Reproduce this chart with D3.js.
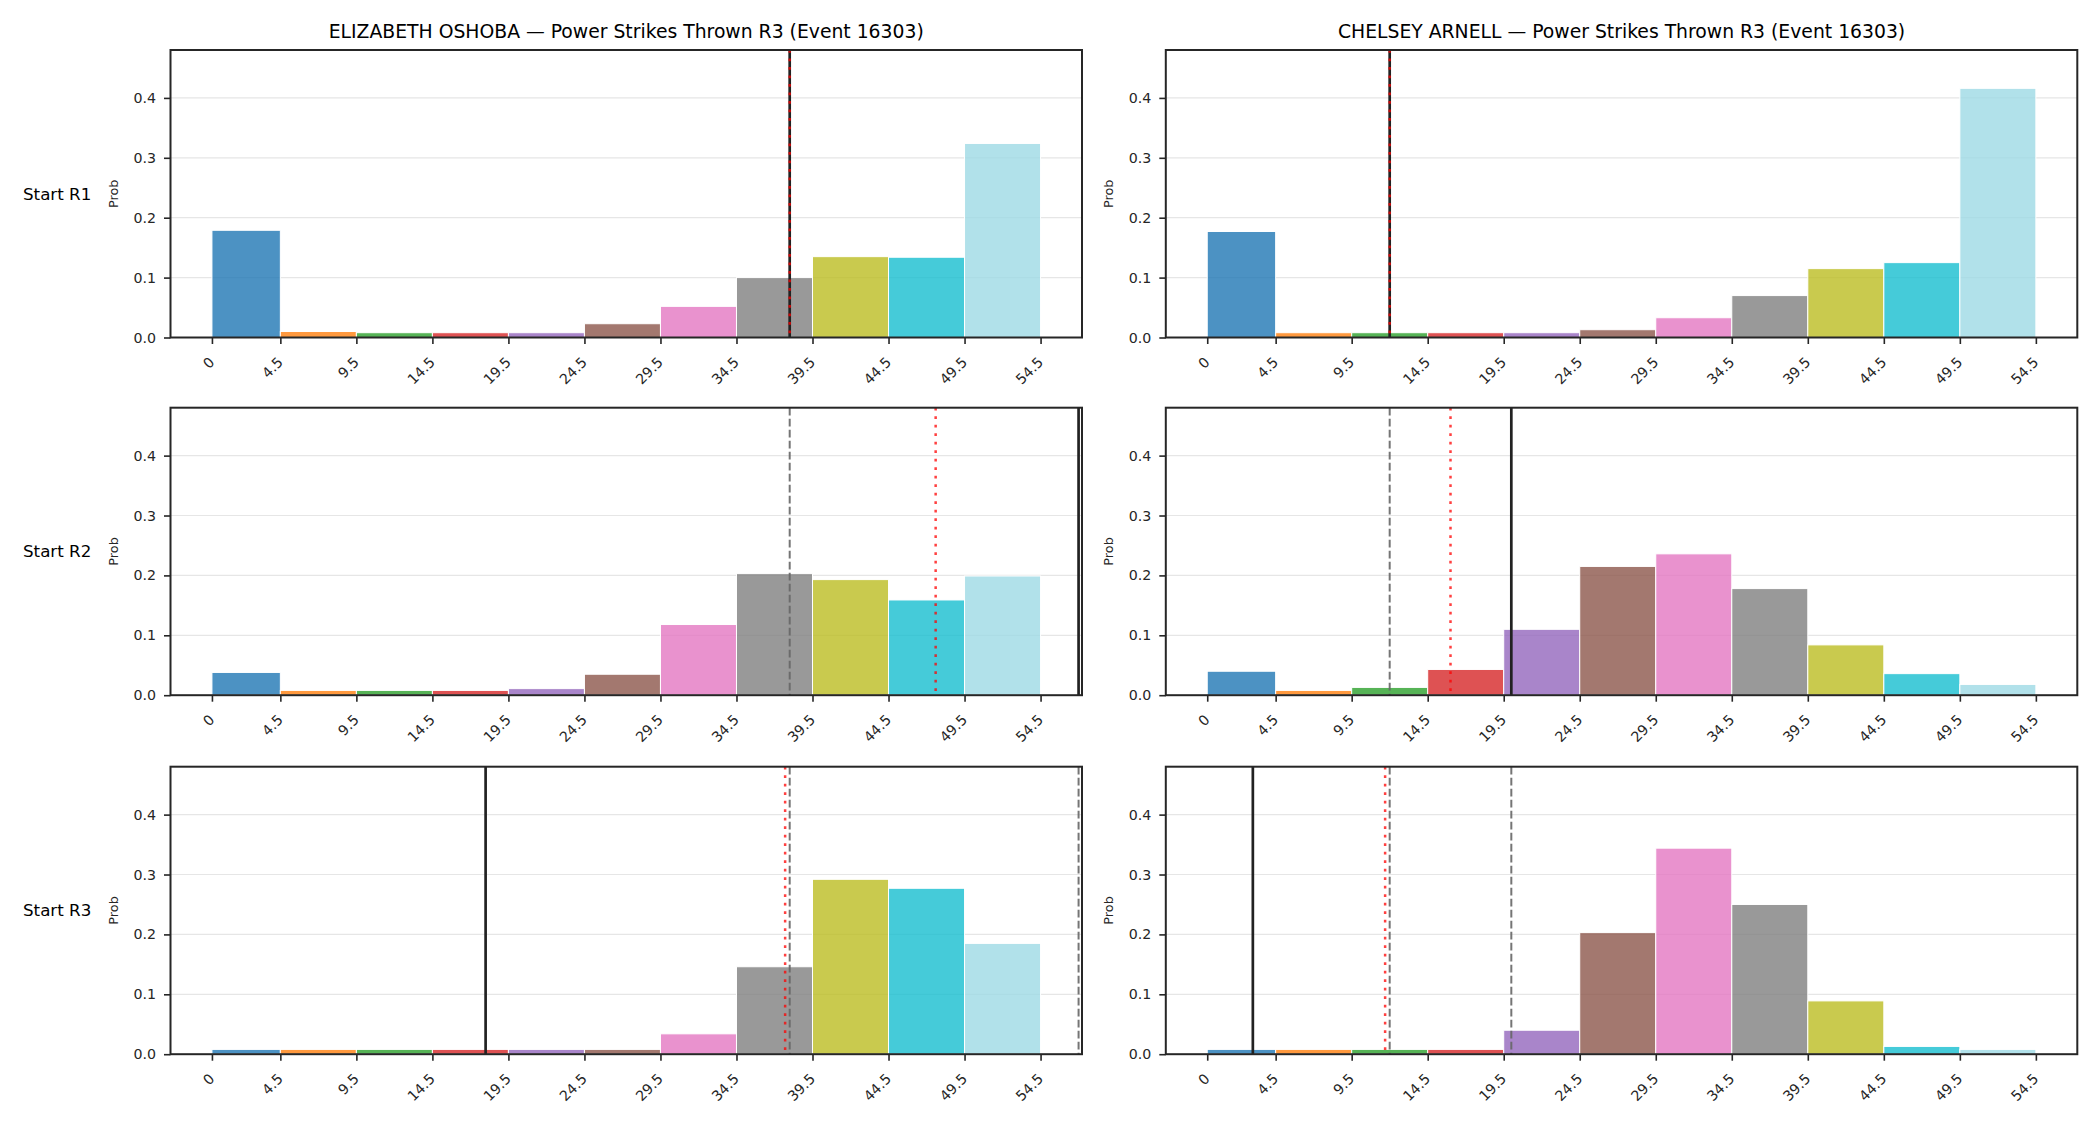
<!DOCTYPE html>
<html>
<head>
<meta charset="utf-8">
<script src="https://cdn.jsdelivr.net/npm/d3@7"></script>
<style>
  body { margin: 0; background: #fff; }
  text { font-family: "DejaVu Sans", sans-serif; }
</style>
</head>
<body>
<svg id="chart"></svg>
<script>
// bins and labels
const binEdges = [0, 4.5, 9.5, 14.5, 19.5, 24.5, 29.5, 34.5, 39.5, 44.5, 49.5, 54.5];
const tickLabels = ["0", "4.5", "9.5", "14.5", "19.5", "24.5", "29.5", "34.5", "39.5", "44.5", "49.5", "54.5"];
const yTicks = [0, 0.1, 0.2, 0.3, 0.4];
const fighters = ["ELIZABETH OSHOBA", "CHELSEY ARNELL"];
const rowLabels = ["Start R1", "Start R2", "Start R3"];
const binColors = ["#1f77b4", "#ff7f0e", "#2ca02c", "#d62728", "#9467bd", "#8c564b",
                   "#e377c2", "#7f7f7f", "#bcbd22", "#17becf", "#9edae5"];

// probabilities per bin
const oshobaR1 = [0.179, 0.010, 0.008, 0.008, 0.008, 0.023, 0.052, 0.100, 0.135, 0.134, 0.324];
const oshobaR2 = [0.038, 0.008, 0.008, 0.008, 0.011, 0.035, 0.118, 0.203, 0.193, 0.159, 0.199];
const oshobaR3 = [0.008, 0.008, 0.008, 0.008, 0.008, 0.008, 0.034, 0.146, 0.292, 0.277, 0.185];
const arnellR1 = [0.177, 0.008, 0.008, 0.008, 0.008, 0.013, 0.033, 0.070, 0.115, 0.125, 0.416];
const arnellR2 = [0.040, 0.008, 0.013, 0.043, 0.110, 0.215, 0.236, 0.178, 0.084, 0.036, 0.018];
const arnellR3 = [0.008, 0.008, 0.008, 0.008, 0.040, 0.203, 0.344, 0.250, 0.089, 0.013, 0.008];

// reference lines: actual (solid), mean (dotted red), earlier actuals (dashed grey)
const oshobaActual = [38, 57, 18];
const oshobaMean = [38, 47.6, 37.7];
const oshobaPrev = [[], [38], [38, 57]];
const arnellActual = [12, 20, 3];
const arnellMean = [12, 16, 11.7];
const arnellPrev = [[], [12], [12, 20]];

const W = 2100, H = 1125;
const panelW = 911.5, panelH = 287.5;
const colX = [170.5, 1165.8];
const rowY = [50, 407.7, 766.7];

const svg = d3.select("#chart").attr("width", W).attr("height", H);

const x = d3.scaleLinear().domain([-2.725, 57.225]).range([0, panelW]);
const y = d3.scaleLinear().domain([0, 0.48]).range([panelH, 0]);

const panels = [
  [oshobaR1, oshobaR2, oshobaR3],
  [arnellR1, arnellR2, arnellR3]
];
const actuals = [oshobaActual, arnellActual];
const means = [oshobaMean, arnellMean];
const prevs = [oshobaPrev, arnellPrev];

function drawPanel(col, row) {
  const probs = panels[col][row];
  const g = svg.append("g")
      .attr("transform", `translate(${colX[col]}, ${rowY[row]})`);

  // grid
  g.selectAll(".grid")
    .data(yTicks.slice(1))
    .join("line")
    .attr("x1", 0).attr("x2", panelW)
    .attr("y1", d => y(d)).attr("y2", d => y(d))
    .attr("stroke", "#e6e6e6").attr("stroke-width", 1.2);

  // bars
  const bins = probs.map((p, i) => ({ x0: binEdges[i], x1: binEdges[i + 1], p: p, c: binColors[i] }));
  g.selectAll("rect.bar")
    .data(bins)
    .join("rect")
    .attr("class", "bar")
    .attr("x", d => x(d.x0))
    .attr("width", d => x(d.x1) - x(d.x0))
    .attr("y", d => y(d.p))
    .attr("height", d => y(0) - y(d.p))
    .attr("fill", d => d.c)
    .attr("fill-opacity", 0.8)
    .attr("stroke", "#fff")
    .attr("stroke-width", 1);

  // previous actuals
  g.selectAll("line.prev")
    .data(prevs[col][row])
    .join("line")
    .attr("class", "prev")
    .attr("x1", d => x(d)).attr("x2", d => x(d))
    .attr("y1", 0).attr("y2", panelH)
    .attr("stroke", "#666").attr("stroke-opacity", 0.9)
    .attr("stroke-width", 2)
    .attr("stroke-dasharray", "7.7,3.3");

  // actual
  g.append("line")
    .attr("x1", x(actuals[col][row])).attr("x2", x(actuals[col][row]))
    .attr("y1", 0).attr("y2", panelH)
    .attr("stroke", "#222").attr("stroke-width", 2.7);

  // mean
  g.append("line")
    .attr("x1", x(means[col][row])).attr("x2", x(means[col][row]))
    .attr("y1", 0).attr("y2", panelH)
    .attr("stroke", "red").attr("stroke-opacity", 0.75)
    .attr("stroke-width", 2.5)
    .attr("stroke-dasharray", "2.7,5.8");

  // axes
  const xAxis = d3.axisBottom(x)
    .tickValues(binEdges)
    .tickFormat((d, i) => tickLabels[i])
    .tickSize(6.5)
    .tickSizeOuter(0);
  const xg = g.append("g")
    .attr("transform", `translate(0, ${panelH})`)
    .call(xAxis);
  xg.select(".domain").remove();
  xg.selectAll(".tick line").attr("stroke", "#262626").attr("stroke-width", 1.6);
  xg.selectAll(".tick text")
    .attr("font-size", "14.2px")
    .attr("fill", "#262626")
    .attr("text-anchor", "end")
    .attr("dy", "0.35em")
    .attr("transform", "translate(-0.5, 22) rotate(-45)")
    .attr("y", 0).attr("x", 0);

  const yAxis = d3.axisLeft(y)
    .tickValues(yTicks)
    .tickFormat(d3.format(".1f"))
    .tickSize(6.5)
    .tickPadding(8);
  const yg = g.append("g").call(yAxis);
  yg.select(".domain").remove();
  yg.selectAll(".tick line").attr("stroke", "#262626").attr("stroke-width", 1.6);
  yg.selectAll(".tick text").attr("font-size", "14.2px").attr("fill", "#262626");

  // spines
  g.append("rect")
    .attr("width", panelW).attr("height", panelH)
    .attr("fill", "none")
    .attr("stroke", "#262626").attr("stroke-width", 2);

  // y label
  g.append("text")
    .attr("transform", `translate(-57, ${panelH / 2}) rotate(-90)`)
    .attr("text-anchor", "middle")
    .attr("dy", "0.35em")
    .attr("font-size", "12.8px")
    .attr("fill", "#262626")
    .text("Prob");

  if (row === 0) {
    g.append("text")
      .attr("x", panelW / 2).attr("y", -18.3)
      .attr("dy", "0.35em")
      .attr("text-anchor", "middle")
      .attr("font-size", "18.8px")
      .attr("fill", "#000")
      .text(`${fighters[col]} — Power Strikes Thrown R3 (Event 16303)`);
  }
  if (col === 0) {
    svg.append("text")
      .attr("x", 23).attr("y", rowY[row] + panelH / 2)
      .attr("dy", "0.35em")
      .attr("font-size", "16.7px")
      .attr("fill", "#000")
      .text(rowLabels[row]);
  }
}

for (let c = 0; c < 2; c++) {
  for (let r = 0; r < 3; r++) drawPanel(c, r);
}
</script>
</body>
</html>
